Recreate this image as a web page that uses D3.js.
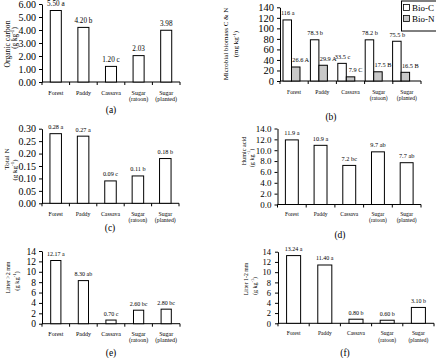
<!DOCTYPE html>
<html><head><meta charset="utf-8">
<script src="https://cdn.jsdelivr.net/npm/d3@7"></script>
<style>
html,body{margin:0;padding:0;background:#fff;}
svg{display:block;font-family:"Liberation Serif","Times New Roman",serif;}
</style></head><body>
<svg id="chart" width="436" height="358"></svg>
<script>
// ---------------- data ----------------
const categories = ["Forest", "Paddy", "Cassava", "Sugar (ratoon)", "Sugar (planted)"];
const categoryLines = [["Forest"], ["Paddy"], ["Cassava"], ["Sugar", "(ratoon)"], ["Sugar", "(planted)"]];

const organicCarbon = [5.50, 4.20, 1.20, 2.03, 3.98];
const organicCarbonLabels = ["5.50 a", "4.20 b", "1.20 c", "2.03", "3.98"];
const organicCarbonTicks = [0, 1, 2, 3, 4, 5, 6];

const bioC = [116, 78.3, 33.5, 78.2, 75.5];
const bioCLabels = ["116 a", "78.3 b", "33.5 c", "78.2 b", "75.5 b"];
const bioN = [26.6, 29.9, 7.9, 17.5, 16.5];
const bioNLabels = ["26.6 A", "29.9 A", "7.9 C", "17.5 B", "16.5 B"];
const bioSeries = ["Bio-C", "Bio-N"];
const bioTicks = [0, 20, 40, 60, 80, 100, 120, 140];

const totalN = [0.28, 0.27, 0.09, 0.11, 0.18];
const totalNLabels = ["0.28 a", "0.27 a", "0.09 c", "0.11 b", "0.18 b"];
const totalNTicks = [0, 0.05, 0.10, 0.15, 0.20, 0.25, 0.30];

const humicAcid = [11.9, 10.9, 7.2, 9.7, 7.7];
const humicAcidLabels = ["11.9 a", "10.9 a", "7.2 bc", "9.7 ab", "7.7 ab"];
const humicAcidTicks = [0, 2, 4, 6, 8, 10, 12, 14];

const litterGt2 = [12.17, 8.30, 0.70, 2.60, 2.80];
const litterGt2Labels = ["12.17 a", "8.30 ab", "0.70 c", "2.60 bc", "2.80 bc"];
const litter12 = [13.24, 11.40, 0.80, 0.60, 3.10];
const litter12Labels = ["13.24 a", "11.40 a", "0.80 b", "0.60 b", "3.10 b"];
const litterTicks = [0, 2, 4, 6, 8, 10, 12, 14];

// ---------------- layout ----------------
const panels = [
  { series: [organicCarbon], labels: [organicCarbonLabels], max: 6, ticks: organicCarbonTicks, fmt: ".2f",
    x0: 42, x1: 180, yTop: 4, yBase: 82, barFrac: 0.4, tickSize: 10, tickPad: 3,
    valSize: 7.2, catSize: 6, catDy: 12.5, catLh: 6.5,
    ylab: [{ t: "Organic carbon", x: 7, y: 44, s: 7.6 }, { t: "(g kg", sup: "-1", tail: ")", x: 14.5, y: 38, s: 7.2 }],
    letter: { t: "(a)", x: 111, y: 113 } },
  { series: [bioC, bioN], labels: [bioCLabels, bioNLabels], max: 140, ticks: bioTicks, fmt: "d",
    x0: 280, x1: 421, yTop: 7.3, yBase: 81, barRange: [283, 420], groupFrac: 0.62, labelShift: [0.5, 5],
    fills: ["#ffffff", "#c8c8c8"], tickSize: 10.5, tickPad: 3,
    valSize: 6.3, catSize: 5.6, catDy: 13, catLh: 6.2,
    ylab: [{ t: "Microbial biomass C & N", x: 226, y: 44, s: 7 }, { t: "(mg kg", sup: "-1", tail: ")", x: 236, y: 44, s: 7 }],
    letter: { t: "(b)", x: 331, y: 119.5 } },
  { series: [totalN], labels: [totalNLabels], max: 0.30, ticks: totalNTicks, fmt: ".2f",
    x0: 42, x1: 179, yTop: 128.7, yBase: 203.3, barFrac: 0.42, tickSize: 10, tickPad: 3,
    valSize: 6.2, catSize: 5.8, catDy: 12.3, catLh: 6.2,
    ylab: [{ t: "Total N", x: 7, y: 159, s: 7 }, { t: "(g kg", sup: "-1", tail: ")", x: 14.5, y: 170, s: 7 }],
    letter: { t: "(c)", x: 110, y: 231 } },
  { series: [humicAcid], labels: [humicAcidLabels], max: 14, ticks: humicAcidTicks, fmt: ".1f",
    x0: 277.5, x1: 421, yTop: 128.5, yBase: 204.5, barFrac: 0.45, tickSize: 9, tickPad: 3,
    valSize: 6.3, catSize: 5.5, catDy: 11.5, catLh: 6,
    ylab: [{ t: "Humic acid", x: 243, y: 151, s: 6.2 }, { t: "(g kg", sup: "-1", tail: ")", x: 250.5, y: 158, s: 6.2 }],
    letter: { t: "(d)", x: 340, y: 237.5 } },
  { series: [litterGt2], labels: [litterGt2Labels], max: 14, ticks: litterTicks, fmt: "d",
    x0: 42, x1: 180, yTop: 251, yBase: 323.7, barFrac: 0.37, tickSize: 9.5, tickPad: 3,
    valSize: 6, catSize: 6, catDy: 12, catLh: 6.3,
    ylab: [{ t: "Litter >2 mm", x: 8, y: 277.5, s: 6 }, { t: "(g kg", sup: "-1", tail: ")", x: 16, y: 281, s: 6.5 }],
    letter: { t: "(e)", x: 111, y: 355.5 } },
  { series: [litter12], labels: [litter12Labels], max: 14, ticks: litterTicks, fmt: "d",
    x0: 278, x1: 434, yTop: 251.7, yBase: 323.3, barFrac: 0.45, tickSize: 8.5, tickPad: 4,
    valSize: 6, catSize: 5.5, catDy: 12, catLh: 6.3,
    ylab: [{ t: "Litter 1-2 mm", x: 246, y: 279, s: 5.8 }, { t: "(g kg", sup: "-1", tail: ")", x: 254.5, y: 286, s: 6 }],
    letter: { t: "(f)", x: 345, y: 355.5 } }
];

const svg = d3.select("#chart");
const FONT = "'Liberation Serif','Times New Roman',serif";

function drawPanel(p) {
  const g = svg.append("g");
  const x = d3.scaleBand().domain(categories).range([p.x0, p.x1]).padding(0);
  const y = d3.scaleLinear().domain([0, p.max]).range([p.yBase, p.yTop]);
  const bw = x.bandwidth();

  // y axis
  const ya = g.append("g").attr("transform", `translate(${p.x0},0)`)
    .call(d3.axisLeft(y).tickValues(p.ticks).tickFormat(d3.format(p.fmt))
      .tickSize(3).tickSizeOuter(0).tickPadding(p.tickPad));
  ya.attr("font-family", FONT).attr("font-size", p.tickSize);
  ya.select(".domain").attr("stroke", "#000");
  ya.selectAll(".tick line").attr("stroke", "#000");
  ya.selectAll(".tick text").attr("fill", "#000");

  // x axis (line with ticks at band boundaries)
  g.append("line").attr("x1", p.x0).attr("x2", p.x1).attr("y1", p.yBase).attr("y2", p.yBase)
    .attr("stroke", "#000");
  const bounds = categories.map(c => x(c)).concat([x.range()[1]]);
  g.selectAll(".xt").data(bounds).enter().append("line")
    .attr("x1", d => d).attr("x2", d => d).attr("y1", p.yBase).attr("y2", p.yBase + 3)
    .attr("stroke", "#000");

  // bars
  if (p.series.length === 1) {
    const vals = p.series[0], labs = p.labels[0];
    const w = bw * p.barFrac;
    g.selectAll(".bar").data(vals).enter().append("rect")
      .attr("x", (d, i) => x(categories[i]) + (bw - w) / 2)
      .attr("y", d => y(d)).attr("width", w).attr("height", d => p.yBase - y(d))
      .attr("fill", "#fff").attr("stroke", "#000").attr("stroke-width", 1);
    g.selectAll(".vl").data(vals).enter().append("text")
      .attr("x", (d, i) => x(categories[i]) + bw / 2)
      .attr("y", d => y(d) - 4.5)
      .attr("text-anchor", "middle").attr("font-size", p.valSize)
      .text((d, i) => labs[i]);
  } else {
    const xg = d3.scaleBand().domain(categories).range(p.barRange).padding(0);
    const inner = d3.scaleBand().domain(d3.range(p.series.length)).range([0, xg.bandwidth() * p.groupFrac]).padding(0);
    p.series.forEach((vals, s) => {
      g.selectAll(".bar" + s).data(vals).enter().append("rect")
        .attr("x", (d, i) => xg(categories[i]) + inner(s))
        .attr("y", d => y(d)).attr("width", inner.bandwidth()).attr("height", d => p.yBase - y(d))
        .attr("fill", p.fills[s]).attr("stroke", "#000").attr("stroke-width", 1);
      g.selectAll(".vl" + s).data(vals).enter().append("text")
        .attr("x", (d, i) => xg(categories[i]) + inner(s) + inner.bandwidth() / 2 + p.labelShift[s])
        .attr("y", d => y(d) - 4.5)
        .attr("text-anchor", "middle").attr("font-size", p.valSize)
        .text((d, i) => p.labels[s][i]);
    });
  }

  // category labels
  categoryLines.forEach((lines, i) => {
    lines.forEach((ln, j) => {
      g.append("text").attr("x", x(categories[i]) + bw / 2)
        .attr("y", p.yBase + p.catDy + j * p.catLh)
        .attr("text-anchor", "middle").attr("font-size", p.catSize).text(ln);
    });
  });

  // y labels
  p.ylab.forEach(l => {
    const t = g.append("text").attr("transform", `translate(${l.x},${l.y}) rotate(-90)`)
      .attr("text-anchor", "middle").attr("dominant-baseline", "central")
      .attr("font-size", l.s);
    t.append("tspan").text(l.t);
    if (l.sup) {
      t.append("tspan").attr("dy", -l.s * 0.35).attr("font-size", l.s * 0.7).text(l.sup);
      t.append("tspan").attr("dy", l.s * 0.35).text(l.tail);
    }
  });

  // panel letter
  g.append("text").attr("x", p.letter.x).attr("y", p.letter.y)
    .attr("text-anchor", "middle").attr("font-size", 9.5).text(p.letter.t);
}

panels.forEach(drawPanel);

// legend for panel (b)
const lg = svg.append("g");
lg.append("rect").attr("x", 401.5).attr("y", 1).attr("width", 40).attr("height", 30)
  .attr("fill", "#fff").attr("stroke", "#000");
const legFills = ["#ffffff", "#c8c8c8"];
bioSeries.forEach((s, i) => {
  lg.append("rect").attr("x", 403.5).attr("y", 4.5 + i * 11).attr("width", 6).attr("height", 6)
    .attr("fill", legFills[i]).attr("stroke", "#000").attr("stroke-width", 0.8);
  lg.append("text").attr("x", 412).attr("y", 10.5 + i * 11).attr("font-size", 9).text(s);
});
</script>
</body></html>
